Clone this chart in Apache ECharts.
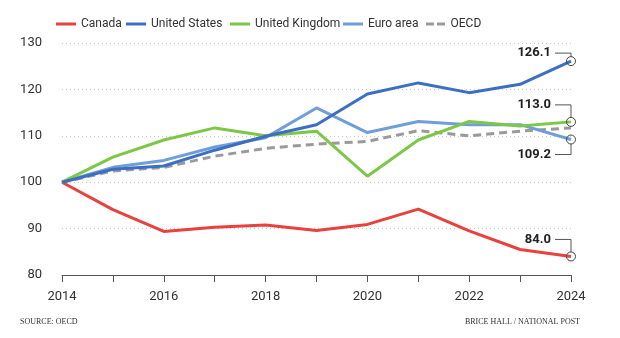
<!DOCTYPE html>
<html>
<head>
<meta charset="utf-8">
<script src="https://cdn.jsdelivr.net/npm/echarts@6/dist/echarts.min.js"></script>
<style>
html,body{margin:0;padding:0;background:#fff;}
#c{width:620px;height:338px;}
</style>
</head>
<body>
<div id="c"></div>
<script>
const years = ['2014','2015','2016','2017','2018','2019','2020','2021','2022','2023','2024'];
const canada = [100, 94.1, 89.4, 90.3, 90.8, 89.6, 90.9, 94.2, 89.5, 85.5, 84.0];
const unitedStates = [100, 102.8, 103.5, 106.9, 109.9, 112.4, 119.0, 121.4, 119.3, 121.1, 126.1];
const unitedKingdom = [100, 105.4, 109.1, 111.7, 110.0, 111.0, 101.3, 109.1, 113.1, 112.1, 113.0];
const euroArea = [100, 103.2, 104.7, 107.6, 109.6, 116.0, 110.7, 113.1, 112.4, 112.4, 109.2];
const oecd = [100, 102.4, 103.2, 105.6, 107.3, 108.2, 108.8, 111.1, 110.0, 111.0, 111.7];
const yTicks = [80, 90, 100, 110, 120, 130];
const seriesNames = ['Canada', 'United States', 'United Kingdom', 'Euro area', 'OECD'];

const FONT = '"Liberation Sans Narrow", "DejaVu Sans Condensed", "Roboto", sans-serif';
const colors = ['#e8413e', '#3b6fc3', '#7cc846', '#6f9ed9', '#9a9a9a'];
const seriesData = [canada, unitedStates, unitedKingdom, euroArea, oecd];
const annotated = [true, true, true, true, false];
const labelOffsets = [-17, -8, -17, 15, 0];

const chart = echarts.init(document.getElementById('c'), null, {renderer: 'canvas'});

function endMarked(arr, mark) {
  return arr.map((v, i) => {
    if (mark && i === arr.length - 1) {
      return {value: v, symbol: 'circle', symbolSize: 9,
        itemStyle: {color: 'rgba(255,255,255,0)', borderColor: '#444', borderWidth: 1}};
    }
    return v;
  });
}

const legendLefts = [51, 121, 225, 338, 421];
const solidIcon = 'path://M0,0H20V3H0Z';
const dashIcon = 'path://M0,0H8V3H0ZM11,0H19V3H11Z';
const order = [4, 0, 3, 2, 1];
const series = order.map(i => ({
  name: seriesNames[i],
  type: 'line',
  data: endMarked(seriesData[i], annotated[i]),
  symbol: 'none',
  showSymbol: true,
  silent: true,
  z: 2,
  lineStyle: {color: colors[i], width: 3, type: i === 4 ? [8, 5] : 'solid'},
  itemStyle: {color: colors[i]},
  animation: false
}));

chart.setOption({
  animation: false,
  grid: {left: 62, right: 49, top: 43, bottom: 63},
  legend: seriesNames.map((n, i) => ({
    data: [{name: n, icon: i === 4 ? dashIcon : solidIcon, itemStyle: {color: colors[i]}}],
    left: legendLefts[i], top: 13, itemWidth: 20, itemHeight: 3,
    itemGap: 5, selectedMode: false,
    textStyle: {fontFamily: 'Roboto, sans-serif', fontSize: 12, color: '#333', padding: [0, 0, 0, 0]}
  })),
  xAxis: {
    type: 'category', data: years, boundaryGap: false,
    axisLine: {lineStyle: {color: '#555', width: 1}},
    axisTick: {interval: 0, length: 7, lineStyle: {color: '#555'}},
    axisLabel: {interval: 1, margin: 15, fontFamily: 'Roboto, sans-serif', fontSize: 13, color: '#333'},
    splitLine: {show: false}
  },
  yAxis: {
    type: 'value', min: yTicks[0], max: yTicks[yTicks.length - 1], interval: 10,
    axisLine: {show: false}, axisTick: {show: false},
    axisLabel: {margin: 20, fontFamily: 'Roboto, sans-serif', fontSize: 13, color: '#333'},
    splitLine: {lineStyle: {color: '#c8c8c8', type: [1, 3], width: 1}}
  },
  series: series
});

const graphics = [];
seriesData.forEach((arr, i) => {
  if (!annotated[i]) return;
  const last = arr.length - 1;
  const p = chart.convertToPixel({xAxisIndex: 0, yAxisIndex: 0}, [last, arr[last]]);
  const dy = labelOffsets[i];
  const ly = p[1] + dy;
  const endY = dy < 0 ? p[1] - 4.5 : p[1] + 4.5;
  graphics.push({
    type: 'polyline', silent: true, z: 10,
    shape: {points: [[p[0] - 16, ly], [p[0], ly], [p[0], endY]]},
    style: {stroke: '#555', lineWidth: 1, fill: null}
  });
  graphics.push({
    type: 'text', silent: true, z: 10,
    x: p[0] - 20, y: ly,
    style: {text: arr[last].toFixed(1), align: 'right', verticalAlign: 'middle',
      font: 'bold 13px Roboto, sans-serif', fill: '#222'}
  });
});
graphics.push({
  type: 'text', left: 20, top: 318,
  style: {text: 'SOURCE: OECD', font: '8px "Liberation Serif", "DejaVu Serif", serif', fill: '#333'}
});
graphics.push({
  type: 'text', right: 40, top: 318,
  style: {text: 'BRICE HALL / NATIONAL POST', font: '8px "Liberation Serif", "DejaVu Serif", serif', fill: '#333'}
});
chart.setOption({graphic: graphics});
</script>
</body>
</html>
